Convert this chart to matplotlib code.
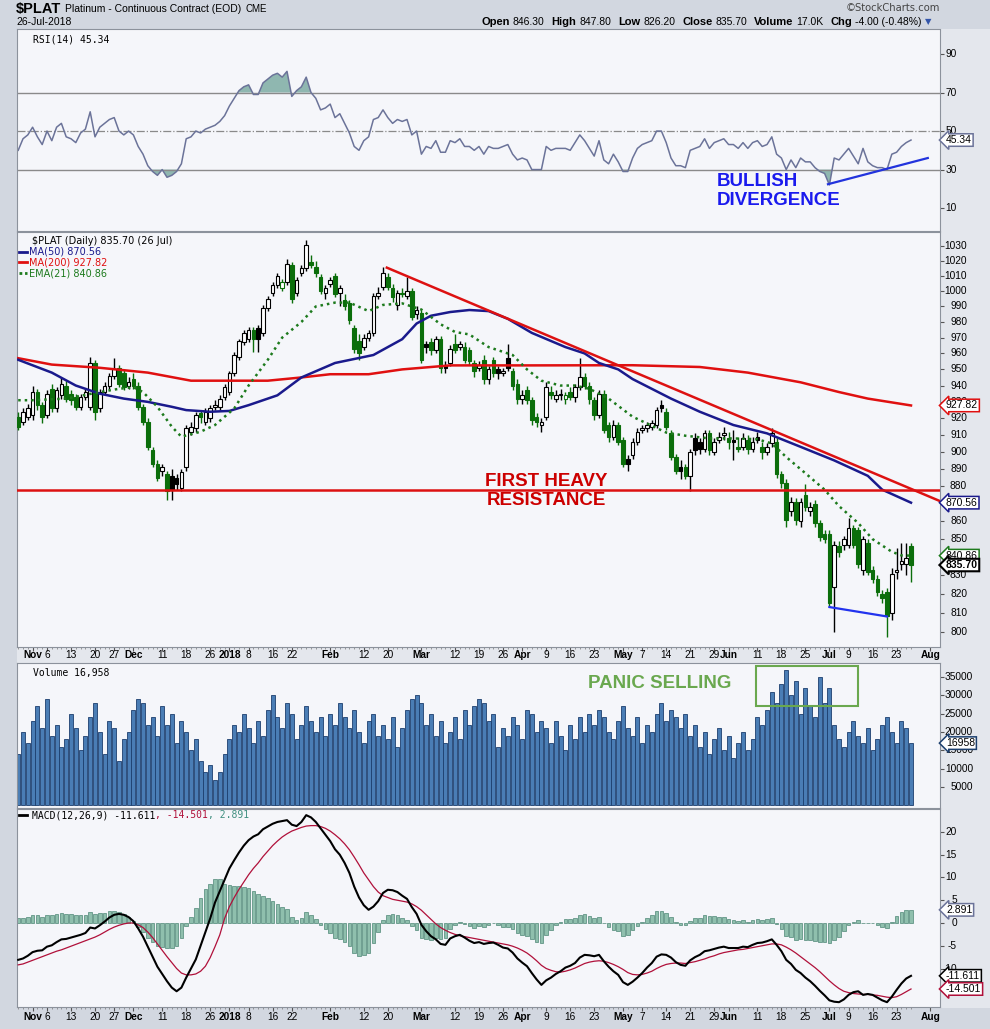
import matplotlib
matplotlib.use('Agg')
import matplotlib.pyplot as plt
import matplotlib.transforms as mtransforms
from matplotlib.patches import Rectangle
from matplotlib.lines import Line2D
from matplotlib.ticker import NullLocator
import numpy as np

plt.rcParams['font.family'] = ['Liberation Sans', 'DejaVu Sans']

# ---- daily data, Oct 27 2017 .. Jul 26 2018 (trading days) ----
opens = [921, 918, 921, 922, 936, 928, 922, 938, 926, 934,
         940, 935, 933, 927, 933, 927, 954, 926, 936, 940,
         946, 951, 948, 940, 944, 940, 927, 918, 901, 893,
         889, 887, 886, 885, 879, 891, 912, 914, 923, 918,
         920, 927, 927, 933, 936, 948, 958, 967, 969, 975,
         976, 973, 989, 999, 1004, 1002, 1006, 1017, 999, 1012,
         1015, 1019, 1016, 1009, 999, 1005, 1010, 999, 994, 992,
         976, 968, 964, 970, 973, 997, 1003, 1009, 1002, 991,
         999, 997, 1000, 985, 986, 966, 967, 962, 969, 953,
         954, 966, 964, 964, 962, 954, 951, 956, 944, 956,
         950, 948, 957, 949, 941, 932, 937, 931, 921, 916,
         921, 936, 932, 934, 932, 936, 933, 939, 945, 940,
         931, 922, 935, 916, 909, 916, 907, 896, 898, 906,
         913, 914, 915, 916, 928, 924, 911, 897, 891, 891,
         886, 908, 906, 902, 911, 900, 907, 910, 908, 907,
         903, 903, 907, 902, 909, 903, 900, 905, 906, 887,
         882, 866, 871, 860, 875, 866, 870, 859, 853, 853,
         824, 846, 847, 847, 856, 855, 833, 848, 833, 828,
         820, 821, 810, 832, 836, 836, 846.3]
highs = [924, 926, 929, 940, 938, 930, 937, 941, 939, 945,
         943, 937, 935, 935, 938, 958, 956, 938, 942, 948,
         957, 953, 950, 945, 948, 942, 929, 920, 903, 895,
         893, 889, 890, 887, 890, 916, 918, 924, 925, 926,
         928, 931, 934, 941, 949, 961, 969, 975, 977, 977,
         978, 991, 997, 1006, 1012, 1008, 1021, 1019, 1009, 1017,
         1034, 1024, 1020, 1011, 1004, 1009, 1012, 1004, 998, 994,
         978, 972, 972, 975, 999, 1003, 1016, 1012, 1005, 1001,
         1002, 1009, 1002, 990, 988, 968, 970, 971, 971, 955,
         965, 972, 968, 967, 964, 956, 955, 959, 952, 958,
         952, 951, 966, 951, 944, 937, 940, 933, 923, 920,
         942, 940, 937, 938, 936, 939, 941, 957, 948, 942,
         933, 937, 937, 918, 919, 918, 909, 898, 908, 914,
         916, 918, 919, 927, 931, 926, 913, 899, 895, 893,
         902, 911, 908, 913, 913, 908, 912, 915, 912, 913,
         909, 911, 910, 909, 912, 906, 905, 914, 908, 889,
         884, 874, 873, 873, 881, 871, 872, 861, 855, 855,
         849, 849, 852, 862, 858, 857, 852, 850, 835, 830,
         822, 823, 834, 845, 848, 848, 847.8]
lows = [913, 916, 919, 919, 925, 917, 920, 924, 924, 932,
        930, 928, 925, 925, 931, 925, 919, 924, 934, 938,
        944, 939, 937, 938, 938, 925, 916, 901, 891, 883,
        886, 872, 872, 878, 877, 889, 910, 912, 917, 916,
        918, 925, 925, 931, 934, 946, 956, 965, 967, 961,
        961, 971, 987, 997, 1002, 1000, 1004, 992, 997, 1010,
        1013, 1015, 1009, 998, 995, 1003, 996, 990, 988, 979,
        960, 956, 962, 968, 971, 995, 1001, 1001, 993, 988,
        996, 995, 981, 982, 954, 960, 959, 960, 948, 948,
        952, 960, 962, 954, 953, 945, 949, 941, 941, 945,
        944, 946, 949, 937, 929, 929, 929, 916, 915, 912,
        919, 932, 930, 931, 929, 931, 930, 937, 938, 929,
        919, 920, 911, 906, 907, 904, 891, 889, 896, 904,
        911, 912, 913, 914, 924, 913, 895, 887, 884, 884,
        877, 898, 899, 900, 898, 898, 905, 907, 902, 895,
        900, 901, 899, 900, 905, 896, 898, 903, 885, 879,
        857, 863, 858, 857, 866, 863, 857, 849, 848, 813,
        800, 840, 844, 845, 845, 834, 830, 830, 826, 819,
        815, 797, 806, 828, 833, 830, 826.2]
closes = [915, 924, 926, 936, 928, 921, 935, 926, 937, 941,
          932, 931, 927, 933, 936, 954, 924, 936, 940, 946,
          950, 941, 939, 942, 940, 927, 918, 903, 893, 885,
          891, 877, 878, 881, 888, 914, 915, 922, 921, 924,
          926, 928, 932, 939, 948, 959, 968, 973, 975, 969,
          969, 989, 995, 1004, 1010, 1006, 1018, 995, 1007, 1015,
          1031, 1017, 1012, 1000, 1002, 1007, 998, 1002, 990, 981,
          963, 960, 970, 973, 997, 999, 1012, 1003, 996, 999,
          998, 1000, 983, 988, 956, 964, 962, 969, 951, 951,
          963, 962, 966, 956, 955, 949, 953, 944, 950, 948,
          948, 949, 951, 940, 932, 934, 931, 919, 918, 918,
          939, 934, 934, 935, 934, 933, 939, 945, 940, 932,
          922, 935, 913, 909, 916, 906, 893, 893, 906, 912,
          914, 916, 917, 925, 926, 915, 897, 889, 889, 886,
          900, 901, 902, 911, 901, 906, 909, 911, 906, 906,
          902, 908, 902, 906, 907, 900, 903, 911, 887, 882,
          861, 871, 861, 871, 868, 868, 859, 851, 850, 815,
          847, 843, 850, 856, 847, 836, 850, 832, 828, 821,
          818, 808, 831, 833, 838, 839.7, 835.7]
volume = [14, 20, 17, 23, 27, 21, 29, 19, 22, 16,
          18, 25, 21, 15, 19, 24, 28, 20, 14, 23,
          21, 12, 18, 20, 26, 29, 28, 22, 24, 19,
          27, 22, 25, 17, 23, 20, 15, 18, 12, 9,
          11, 7, 9, 14, 18, 22, 20, 25, 21, 17,
          23, 19, 26, 30, 24, 21, 28, 25, 18, 22,
          27, 23, 20, 24, 19, 25, 22, 28, 24, 21,
          26, 20, 17, 23, 25, 19, 22, 18, 24, 16,
          21, 26, 29, 30, 28, 22, 25, 19, 23, 17,
          20, 24, 18, 26, 22, 27, 29, 28, 23, 25,
          16, 21, 19, 24, 22, 18, 26, 25, 20, 23,
          21, 17, 23, 19, 15, 22, 18, 24, 20, 25,
          22, 26, 24, 20, 18, 23, 27, 21, 19, 24,
          17, 22, 20, 25, 28, 23, 26, 24, 21, 25,
          19, 22, 16, 20, 14, 18, 21, 15, 19, 13,
          17, 20, 15, 18, 24, 22, 26, 31, 28, 33,
          37, 30, 34, 25, 32, 27, 24, 35, 28, 32,
          22, 18, 16, 20, 23, 19, 17, 21, 15, 18,
          22, 24, 20, 17, 23, 21, 16.958]
rsi = [40, 46, 48, 52, 47, 43, 50, 45, 52, 54,
       47, 46, 44, 49, 51, 60, 47, 52, 54, 56,
       57, 50, 48, 50, 48, 42, 38, 32, 29, 27,
       30, 26, 27, 29, 33, 46, 47, 50, 49, 51,
       52, 53, 55, 58, 63, 67, 71, 73, 74, 69,
       69, 75, 77, 79, 80, 78, 81, 68, 71, 73,
       78, 70, 67, 61, 62, 64, 57, 59, 54, 49,
       42, 40, 45, 47, 56, 57, 61, 57, 54, 56,
       55, 56, 48, 50, 38, 42, 41, 45, 39, 39,
       45, 44, 46, 42, 42, 40, 42, 38, 42, 41,
       41, 42, 43, 38, 35, 36, 35, 30, 30, 30,
       42, 40, 41, 41, 41, 40, 44, 48, 45, 41,
       37, 45, 35, 33, 38, 34, 29, 29, 36, 41,
       43, 44, 45, 50, 50, 44, 36, 32, 32, 31,
       40, 41, 42, 46, 41, 44, 45, 46, 43, 43,
       41, 44, 41, 44, 45, 42, 43, 47, 38, 36,
       30, 35, 31, 36, 34, 34, 31, 29, 28, 22,
       36, 35, 38, 41, 37, 33, 41, 34, 32, 31,
       31, 30, 38, 39, 42, 44, 45.34]
macd = [-8.1, -7.8, -7.2, -6.4, -6.1, -6.0, -5.2, -4.9, -4.2, -3.6,
        -3.5, -3.2, -2.9, -2.6, -2.2, -1.0, -1.2, -0.5, 0.3, 1.2,
        1.8, 2.0, 1.8, 1.3, 0.4, -1.2, -3.0, -5.2, -7.4, -9.6,
        -11.2, -12.8, -14.2, -15.0, -14.2, -12.0, -10.0, -8.0, -5.0, -2.0,
        1.0, 4.5, 7.0, 9.5, 12.0, 13.8, 15.5, 17.0, 18.2, 19.0,
        19.5, 20.6, 21.2, 21.8, 22.2, 22.4, 22.6, 21.6, 21.3, 22.2,
        23.7, 23.2, 22.2, 20.8, 19.4, 18.0, 16.2, 15.0, 13.2, 11.0,
        8.0, 5.6, 3.9, 2.9, 3.6, 4.8, 6.6, 7.3, 7.2, 6.8,
        6.0, 5.3, 3.5, 2.0, -0.4, -1.8, -2.9, -3.6, -4.6, -4.8,
        -3.4, -2.9, -2.6, -3.2, -3.9, -4.4, -4.2, -4.6, -4.4, -4.3,
        -4.8, -5.4, -5.6, -6.5, -7.8, -8.7, -9.5, -11.0, -12.4, -13.6,
        -12.6, -12.0, -11.2, -10.6, -9.8, -9.4, -8.8, -7.6, -7.0, -7.1,
        -7.3, -7.0, -8.4, -9.6, -10.6, -11.4, -13.0, -13.6, -12.9, -12.0,
        -11.0, -9.8, -8.8, -7.4, -6.9, -7.0, -7.6, -8.6, -9.2, -9.4,
        -8.2, -7.5, -7.0, -6.2, -6.0, -5.7, -5.4, -5.2, -5.5, -5.5,
        -5.5, -5.2, -5.3, -4.8, -4.4, -4.3, -4.0, -3.6, -4.8, -6.2,
        -8.1, -9.0, -10.3, -11.0, -12.0, -12.8, -13.8, -14.9, -15.9, -17.0,
        -17.3, -17.4, -16.8, -15.8, -15.2, -15.0, -15.8, -15.6, -15.8, -16.4,
        -17.0, -17.4, -16.2, -14.7, -13.3, -12.2, -11.611]
signal = [-9.2, -9.0, -8.6, -8.2, -7.8, -7.4, -7.0, -6.6, -6.2, -5.9,
          -5.5, -5.1, -4.7, -4.3, -3.9, -3.5, -3.1, -2.6, -2.0, -1.4,
          -0.9, -0.5, -0.2, 0.0, 0.0, -0.4, -1.0, -2.0, -3.2, -4.6,
          -6.0, -7.4, -8.7, -10.0, -11.0, -11.4, -11.4, -11.2, -10.6, -9.5,
          -7.6, -5.2, -2.6, 1.0, 3.6, 5.6, 7.4, 9.0, 10.6, 12.0,
          13.2, 14.6, 15.8, 17.0, 18.0, 18.9, 19.6, 20.2, 20.6, 21.0,
          21.3, 21.4, 21.4, 21.2, 20.8, 20.2, 19.4, 18.5, 17.4, 16.1,
          14.5, 12.8, 11.0, 9.5, 8.0, 6.8, 6.0, 5.6, 5.2, 5.0,
          4.8, 4.6, 4.2, 3.6, 2.8, 1.8, 0.8, -0.2, -1.0, -1.6,
          -2.1, -2.5, -2.8, -3.0, -3.2, -3.4, -3.6, -3.8, -4.0, -4.2,
          -4.4, -4.6, -4.8, -5.1, -5.5, -6.0, -6.6, -7.4, -8.3, -9.3,
          -10.0, -10.4, -10.7, -10.8, -10.6, -10.3, -9.9, -9.4, -8.9, -8.6,
          -8.4, -8.3, -8.4, -8.7, -9.1, -9.6, -10.2, -10.9, -11.3, -11.4,
          -11.3, -11.0, -10.6, -10.0, -9.5, -9.1, -8.9, -8.8, -8.8, -8.9,
          -8.7, -8.5, -8.2, -7.9, -7.5, -7.2, -6.8, -6.5, -6.3, -6.1,
          -5.9, -5.8, -5.6, -5.4, -5.2, -5.0, -4.8, -4.6, -4.6, -4.8,
          -5.3, -5.9, -6.6, -7.4, -8.2, -9.0, -9.8, -10.7, -11.7, -12.7,
          -13.6, -14.4, -15.0, -15.3, -15.5, -15.6, -15.7, -15.7, -15.8, -15.9,
          -16.1, -16.3, -16.4, -16.2, -15.7, -15.1, -14.501]

# overlays at a few points
ma50_idx = [0, 7, 12, 17, 22, 27, 32, 35, 40, 44, 48, 54, 59, 66, 74, 80, 83, 86, 90, 94,
            98, 102, 107, 114, 118, 121, 125, 128, 136, 142, 149, 156, 163, 170, 177, 180, 186]
ma50_val = [956, 948, 940, 935, 932, 930, 927, 925, 924, 924.5, 928, 934, 945, 954, 959, 969, 979, 984, 986.4, 987.7,
            987, 982, 973, 964, 960, 954, 950, 944, 932, 924, 916, 911, 903, 895, 886, 878, 870.56]
ma200_idx = [0, 7, 17, 27, 36, 45, 52, 59, 65, 73, 80, 90, 107, 128, 142, 152, 163, 171, 177, 186]
ma200_val = [957, 953, 951, 948, 943, 943, 943, 945, 947, 947, 950, 952.5, 952.5, 952.6, 951.5, 948, 942, 936, 932, 927.82]
ema_idx = [0, 3, 10, 17, 21, 24, 26, 29, 32, 34, 38, 41, 45, 48, 52, 55, 59, 62, 66, 69,
           73, 76, 80, 84, 88, 91, 94, 98, 103, 106, 109, 113, 116, 119, 123, 128, 135, 139, 144, 149,
           154, 157, 160, 164, 168, 171, 175, 178, 182, 184, 186]
ema_val = [931, 931, 932, 936, 938, 939, 936, 927, 915, 909, 912, 916, 926, 940, 956, 970, 980, 990, 992.5, 992.5,
           987, 991, 992, 988, 978.5, 973.6, 972, 964, 959, 950, 943, 940, 940, 938, 932, 921, 911.5, 909.6, 908, 908,
           907.5, 905, 897, 887.5, 878, 868.6, 859, 850, 843, 841, 840.86]

# drawn lines
trend_x = [76.8, 192]
trend_y = [1015.5, 871.5]
resist = 878
div_px_x = [169, 181]
div_px_y = [813, 808]
div_rsi_x = [168.7, 189.5]
div_rsi_y = [22.4, 36]

xt_pos = [3, 6, 11, 16, 20, 24, 30, 35, 40, 44, 48, 53, 57, 65, 72, 77, 84, 91, 96, 101,
          105, 110, 115, 120, 126, 130, 135, 140, 145, 148, 154, 159, 164, 169, 173, 178, 183, 190]
xt_txt = ['Nov', '6', '13', '20', '27', 'Dec', '11', '18', '26', '2018', '8', '16', '22', 'Feb', '12', '20',
          'Mar', '12', '19', '26', 'Apr', '9', '16', '23', 'May', '7', '14', '21', '29', 'Jun', '11', '18',
          '25', 'Jul', '9', '16', '23', 'Aug']
bold_lbl = {'Nov', 'Dec', '2018', 'Feb', 'Mar', 'Apr', 'May', 'Jun', 'Jul', 'Aug'}

price_ticks = [800, 810, 820, 830, 850, 860, 880, 890, 900, 910, 920, 930, 940,
               950, 960, 970, 980, 990, 1000, 1010, 1020, 1030]
vol_ticks = [5000, 10000, 15000, 20000, 25000, 30000, 35000]
rsi_ticks = [10, 30, 50, 70, 90]
macd_ticks = [-10, -5, 0, 5, 10, 15, 20]

W, H = 990, 1029
L, R = 17, 940
XMIN, XMAX = -0.25, 192.04
GREEN = '#0b6e0b'


def rect(top, bottom):
    return [L / W, 1 - bottom / H, (R - L) / W, (bottom - top) / H]


def ftext(x, y, s, **kw):
    return fig.text(x / W, 1 - y / H, s, **kw)


def run(x, y, parts, rend):
    # parts: (text, gap after in px, kwargs)
    for s, gap, kw in parts:
        t = ftext(x, y, s, va='center', ha='left', **kw)
        x += t.get_window_extent(rend).width + gap


def right_labels(ax, vals, xr, ticks=None):
    tr = mtransforms.blended_transform_factory(ax.transAxes, ax.transData)
    for v in vals:
        ax.text((xr - L) / (R - L), v, str(v), transform=tr, ha='right', va='center',
                fontsize=7.3, clip_on=False, zorder=15)
    ax.set_yticks(ticks if ticks is not None else vals)
    ax.tick_params(axis='y', left=False, right=True, labelleft=False, labelright=False,
                   length=3, direction='out', color='#555555')


def tag(ax, v, s, ec, bold=False):
    tr = mtransforms.blended_transform_factory(ax.transAxes, ax.transData)
    ax.text((946 - L) / (R - L), v, s, transform=tr, ha='left', va='center', fontsize=7.5,
            fontweight='bold' if bold else 'normal', clip_on=False, zorder=20,
            bbox=dict(boxstyle='larrow,pad=0.12', fc='white', ec=ec, lw=1.5 if bold else 1.1))


def style(ax):
    ax.set_facecolor('#f5f6fa')
    ax.set_xlim(XMIN, XMAX)
    for s in ax.spines.values():
        s.set_color('#8c929c')
        s.set_linewidth(0.8)
    ax.spines['right'].set_linestyle((0, (1, 1)))
    ax.tick_params(axis='x', bottom=False, labelbottom=False)


def xlabels(ax, ypix, top, bottom):
    tr = mtransforms.blended_transform_factory(ax.transData, ax.transAxes)
    ya = (bottom - ypix) / (bottom - top)
    for p, s in zip(xt_pos, xt_txt):
        ax.text(p, ya, s, transform=tr, ha='center', va='center', fontsize=7.3,
                fontweight='bold' if s in bold_lbl else 'normal', clip_on=False)
    ax.set_xticks(xt_pos)
    ax.set_xticks(np.arange(len(closes)), minor=True)
    ax.tick_params(axis='x', which='major', bottom=True, length=3, direction='out',
                   color='#555555', labelbottom=False)
    ax.tick_params(axis='x', which='minor', bottom=True, length=1.5, direction='out',
                   color='#888888')


fig = plt.figure(figsize=(W / 100, H / 100), dpi=100, facecolor='#d2d7e0')
fig.patches.append(Rectangle((R / W, 1 - 1008 / H), (W - R) / W, (1008 - 29) / H,
                             transform=fig.transFigure, fc='#e4e7ed', ec='none', zorder=-5))
fig.patches.append(Rectangle((L / W, 1 - 663 / H), (R - L) / W, 16 / H,
                             transform=fig.transFigure, fc='#e4e7ed', ec='none', zorder=-5))

ax_rsi = fig.add_axes(rect(29, 231))
ax_px = fig.add_axes(rect(232, 647))
ax_vol = fig.add_axes(rect(663, 808))
ax_macd = fig.add_axes(rect(809, 1007))
for a in (ax_rsi, ax_px, ax_vol, ax_macd):
    style(a)

x = np.arange(len(closes))
o = np.array(opens, float)
h = np.array(highs, float)
lo = np.array(lows, float)
c = np.array(closes, float)
prev = np.concatenate([[o[0]], c[:-1]])

# ---- RSI ----
r = np.array(rsi, float)
ax_rsi.set_ylim(-1.9, 103)
ax_rsi.axhline(70, color='#8a8a8a', lw=1)
ax_rsi.axhline(30, color='#8a8a8a', lw=1)
ax_rsi.axhline(50, color='#8a8a8a', lw=0.9, ls='-.')
ax_rsi.fill_between(x, r, 70, where=r > 70, interpolate=True, color='#8fb7b0', lw=0)
ax_rsi.fill_between(x, r, 30, where=r < 30, interpolate=True, color='#8fb7b0', lw=0)
ax_rsi.plot(x, r, color='#6b7399', lw=1.1)
ax_rsi.plot(div_rsi_x, div_rsi_y, color='#2233dd', lw=1.6)
right_labels(ax_rsi, rsi_ticks, 957)
tag(ax_rsi, rsi[-1], '45.34', '#6b7399')
ax_rsi.text(0.017, 0.95, 'RSI(14) 45.34', transform=ax_rsi.transAxes, fontsize=7,
            family='DejaVu Sans Mono', va='center')
ax_rsi.text(0.758, 0.2, 'BULLISH\nDIVERGENCE', transform=ax_rsi.transAxes, fontsize=13.5,
            fontweight='bold', color='#1a1aee', va='center', ha='left', linespacing=1.15)

# ---- price ----
ax_px.set_yscale('log')
ax_px.set_ylim(792, 1039.5)
ax_px.yaxis.set_minor_locator(NullLocator())
down = c < prev
col = np.where(down, GREEN, 'black')
filled = c < o
ax_px.vlines(x, lo, h, colors=col, lw=1, zorder=3)
bot = np.minimum(o, c)
top = np.maximum(o, c)
hgt = np.maximum(top - bot, 0.6)
fc = [cc if f else 'white' for cc, f in zip(col, filled)]
ax_px.bar(x, hgt, bottom=bot, width=0.72, color=fc, edgecolor=col, lw=0.8, zorder=4)
ax_px.plot(ma200_idx, ma200_val, color='#e01010', lw=1.8, zorder=5)
ax_px.plot(ma50_idx, ma50_val, color='#1a1a8c', lw=1.8, zorder=5)
ax_px.plot(ema_idx, ema_val, color='#1d7a1d', lw=1.8, ls=(0, (1, 1.6)), zorder=5)
ax_px.plot(trend_x, trend_y, color='#dd1111', lw=1.8, zorder=6)
ax_px.axhline(resist, color='#dd1111', lw=1.8, zorder=6)
ax_px.plot(div_px_x, div_px_y, color='#2233ee', lw=1.6, zorder=6)
right_labels(ax_px, price_ticks, 967, ticks=list(range(800, 1031, 10)))
tag(ax_px, 927.82, '927.82', '#e01010')
tag(ax_px, 870.56, '870.56', '#1a1a8c')
tag(ax_px, 840.86, '840.86', '#1d7a1d')
tag(ax_px, 835.70, '835.70', 'black', bold=True)
ax_px.text(0.5735, 0.375, 'FIRST HEAVY\nRESISTANCE', transform=ax_px.transAxes, fontsize=13.5,
           fontweight='bold', color='#cc0000', ha='center', va='center', linespacing=1.15)
xlabels(ax_px, 655, 232, 647)

leg = [('$PLAT (Daily) 835.70 (26 Jul)', 'black', None),
       ('MA(50) 870.56', '#1a1a8c', '-'),
       ('MA(200) 927.82', '#e01010', '-'),
       ('EMA(21) 840.86', '#1d7a1d', ':')]
for k, (s, cl, ls) in enumerate(leg):
    yy = 241 + 10.7 * k
    ftext(32 if ls is None else 29, yy, s, color=cl, fontsize=7, family='DejaVu Sans', va='center')
    if ls is not None:
        fig.add_artist(Line2D([19 / W, 27 / W], [1 - yy / H, 1 - yy / H], color=cl, lw=2,
                              ls='-' if ls == '-' else (0, (1, 1))))

# ---- volume ----
v = np.array(volume) * 1000
ax_vol.set_ylim(-736, 38800)
ax_vol.bar(x, v, width=0.8, color='#4a7db5', edgecolor='#1c3f6e', lw=0.6)
right_labels(ax_vol, vol_ticks, 973)
tag(ax_vol, 16958, '16958', '#1c3f6e')
ax_vol.text(0.017, 0.93, 'Volume 16,958', transform=ax_vol.transAxes, fontsize=7,
            family='DejaVu Sans Mono', va='center')
ax_vol.add_patch(Rectangle((0.8006, (808 - 706) / 145), 102 / 923, 40 / 145, transform=ax_vol.transAxes,
                           fill=False, ec='#6aa84f', lw=1.5, zorder=6))
ax_vol.text((588 - L) / (R - L), (808 - 684) / 145, 'PANIC SELLING', transform=ax_vol.transAxes,
            fontsize=13.5, fontweight='bold', color='#6aa84f', ha='left', va='center')

# ---- MACD ----
m = np.array(macd)
sg = np.array(signal)
hist = m - sg
ax_macd.set_ylim(-18.46, 25.05)
ax_macd.bar(x, hist, width=0.75, color='#8fbfad', edgecolor='#4f8777', lw=0.5, zorder=2)
ax_macd.plot(x, sg, color='#b0103a', lw=0.9, zorder=3)
ax_macd.plot(x, m, color='black', lw=1.5, zorder=4)
right_labels(ax_macd, macd_ticks, 957, ticks=[-15] + macd_ticks)
tag(ax_macd, 2.891, '2.891', '#6b7399')
tag(ax_macd, -11.611, '-11.611', 'black')
tag(ax_macd, -14.501, '-14.501', '#b0103a')
xlabels(ax_macd, 1017, 809, 1007)

rend = fig.canvas.get_renderer()
fig.add_artist(Line2D([19 / W, 27 / W], [1 - 815 / H, 1 - 815 / H], color='black', lw=2))
run(32, 815, [('MACD(12,26,9) -11.611', 0, dict(fontsize=7, family='DejaVu Sans Mono')),
              (', -14.501', 0, dict(fontsize=7, family='DejaVu Sans Mono', color='#b0103a')),
              (', 2.891', 0, dict(fontsize=7, family='DejaVu Sans Mono', color='#3f8f80'))], rend)

# ---- header ----
run(16, 9, [('$PLAT', 4, dict(fontsize=10.5, fontweight='bold')),
            ('Platinum - Continuous Contract (EOD)', 4, dict(fontsize=7.5)),
            ('CME', 0, dict(fontsize=7))], rend)
ftext(16, 22, '26-Jul-2018', fontsize=7.5, va='center')
ftext(940, 8, '\u00a9StockCharts.com', fontsize=7.2, family='DejaVu Sans', color='#444444',
      ha='right', va='center')
b = dict(fontsize=8, fontweight='bold')
n = dict(fontsize=7.5)
run(481, 22, [('Open', 3, b), ('846.30', 7, n), ('High', 3, b), ('847.80', 7, n),
              ('Low', 3, b), ('826.20', 7, n), ('Close', 3, b), ('835.70', 7, n),
              ('Volume', 3, b), ('17.0K', 7, n), ('Chg', 3, b), ('-4.00 (-0.48%)', 3, n),
              ('\u25bc', 0, dict(fontsize=6, color='#3355aa', family='DejaVu Sans'))], rend)

fig.savefig('out.png', dpi=100, facecolor=fig.get_facecolor())
